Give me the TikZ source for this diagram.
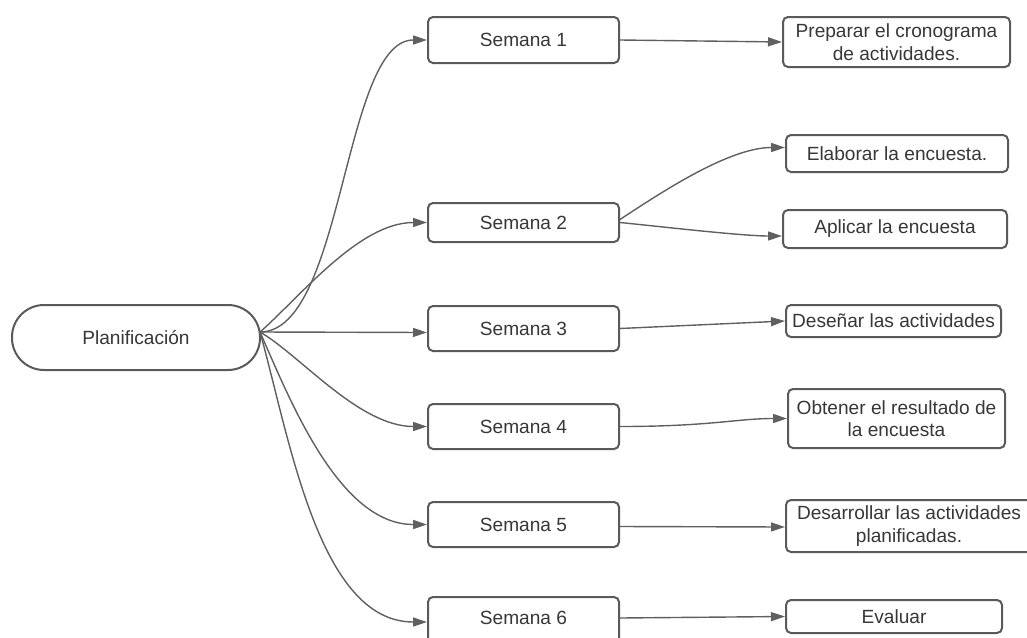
\documentclass[tikz,border=0pt]{standalone}
\usepackage{fontspec}
\setmainfont{Liberation Sans}
\usetikzlibrary{arrows.meta,calc}
\definecolor{linec}{RGB}{96,96,96}
\definecolor{boxc}{RGB}{90,90,90}
\definecolor{textc}{RGB}{55,55,55}
\begin{document}
\begin{tikzpicture}[x=1pt,y=-1pt,
  box/.style={draw=boxc,line width=2pt,rounded corners=5pt,fill=white,inner sep=0pt,
    align=center,text=textc,font=\fontsize{19.1}{22.5}\selectfont},
  conn/.style={draw=linec,line width=1.4pt,-{Triangle[length=14pt,width=9pt]}}]
\useasboundingbox (0,0) rectangle (1027,637);
% central node
\node[box,rounded corners=32pt,minimum width=248pt,minimum height=65pt] (P) at (136,337.5) {Planificación};
\coordinate (o) at (260,332);
% week boxes
\node[box,minimum width=191pt,minimum height=46pt] (S1) at (523.5,40) {Semana 1};
\node[box,minimum width=191pt,minimum height=39pt] (S2) at (523.5,222.5) {Semana 2};
\node[box,minimum width=191pt,minimum height=45pt] (S3) at (523.5,328.5) {Semana 3};
\node[box,minimum width=191pt,minimum height=45pt] (S4) at (523.5,426.5) {Semana 4};
\node[box,minimum width=191pt,minimum height=45pt] (S5) at (523.5,524.5) {Semana 5};
\node[box,minimum width=191pt,text height=27.5pt,text depth=30pt,anchor=north] (S6) at (523.5,596) {Semana 6};
% task boxes
\node[box,minimum width=227pt,minimum height=50pt] (T1) at (896.5,42) {Preparar el cronograma\\de actividades.};
\node[box,minimum width=222pt,minimum height=37pt] (T2) at (897,153.5) {Elaborar la encuesta.};
\node[box,minimum width=224pt,minimum height=38pt] (T3) at (895,229) {Aplicar la encuesta};
\node[box,minimum width=215pt,minimum height=32pt] (T4) at (893.5,321) {Deseñar las actividades};
\node[box,minimum width=217pt,minimum height=59pt] (T5) at (896.5,418.5) {Obtener el resultado de\\la encuesta};
\node[box,minimum width=246pt,minimum height=52pt] (T6) at (909,526) {Desarrollar las actividades\\planificadas.};
\node[box,minimum width=216pt,minimum height=33pt] (T7) at (894,616.5) {Evaluar};
% connectors from center
\draw[conn] (o) .. controls +(84,0) and +(-84,0) .. (S1.west);
\draw[conn] (o) .. controls +(40,-35) and +(-68,0) .. (S2.west);
\draw[conn] (o) -- ($(S3.west)+(0,4)$);
\draw[conn] (o) .. controls +(40,23) and +(-68,0) .. (S4.west);
\draw[conn] (o) .. controls +(30,68) and +(-88,0) .. (S5.west);
\draw[conn] (o) .. controls +(30,108) and +(-108,0) .. ($(S6.north west)+(0,26)$);
% connectors to tasks
\draw[conn] (S1.east) -- (T1.west);
\draw[conn] ($(S2.east)+(0,-3)$) .. controls +(41,-27) and +(-56,0) .. ($(T2.west)+(0,-6)$);
\draw[conn] (S2.east) .. controls +(40,4) and +(-40,0) .. ($(T3.west)+(0,7)$);
\draw[conn] (S3.east) -- (T4.west);
\draw[conn] (S4.east) .. controls +(90,0) and +(-50,0) .. (T5.west);
\draw[conn] ($(S5.east)+(0,2)$) -- ($(T6.west)+(0,1)$);
\draw[conn] ($(S6.north east)+(0,22)$) -- (T7.west);
\end{tikzpicture}
\end{document}
